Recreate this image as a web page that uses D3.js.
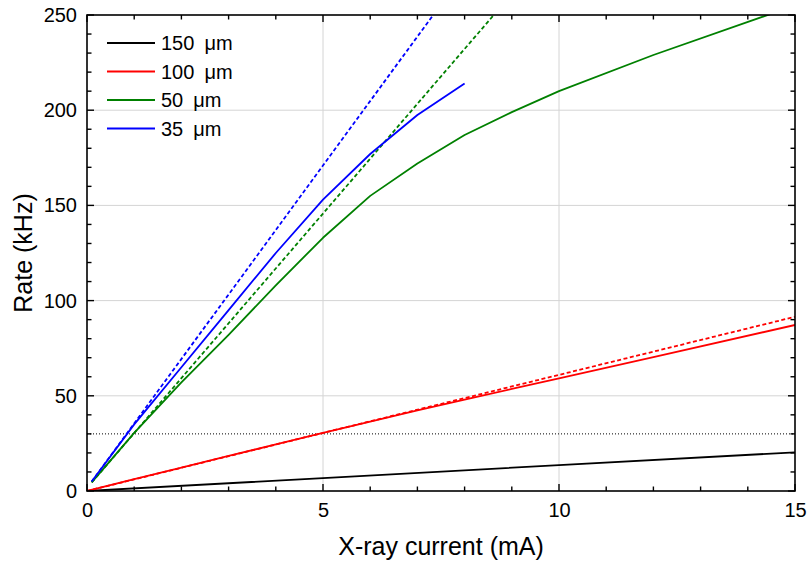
<!DOCTYPE html>
<html>
<head>
<meta charset="utf-8">
<script src="https://cdn.jsdelivr.net/npm/d3@7"></script>
<style>
  html, body { margin: 0; padding: 0; background: #fff; }
  svg { display: block; font-family: "Liberation Sans", Arial, sans-serif; }
</style>
</head>
<body>
<svg id="chart" width="808" height="565"></svg>
<script>
// Count rate vs. X-ray tube current for several pixel pitches
const xTicks = [0, 5, 10, 15];
const yTicks = [0, 50, 100, 150, 200, 250];

// measured (solid) curves
const current150 = [0, 5, 10, 15];
const rate150 = [0, 6.8, 13.6, 20.3];

const current100 = [0, 1, 2, 3, 4, 5, 6, 7, 8, 9, 10, 12, 15];
const rate100 = [0, 6.2, 12.3, 18.4, 24.5, 30.5, 36.5, 42.3, 48, 53.6, 59.2, 70.3, 87.2];

const current50 = [0.1, 1, 2, 3, 4, 5, 6, 7, 8, 9, 10, 12, 15];
const rate50 = [4.5, 30.5, 57, 82, 108, 133, 155, 172, 187, 199, 210, 229, 255];

const current35 = [0.1, 1, 2, 3, 4, 5, 6, 7, 8];
const rate35 = [5, 35, 65, 95, 125, 153, 177, 197.5, 214];

// ideal (dashed) linear responses
const idealCurrent100 = [0, 15];
const idealRate100 = [0, 91.5];
const idealCurrent50 = [0.1, 9];
const idealRate50 = [4.5, 261];
const idealCurrent35 = [0.1, 7.6];
const idealRate35 = [5, 259];

// reference level
const thresholdRate = 30;

const legendSizes = ["150", "100", "50", "35"];
const legendUnit = "μm";
const colors = ["#000000", "#ff0000", "#008000", "#0000ff"];

const svg = d3.select("#chart");
const W = 808, H = 565;
const m = { left: 87, top: 15, right: 13, bottom: 74 };
const iw = W - m.left - m.right, ih = H - m.top - m.bottom;

const x = d3.scaleLinear().domain([0, 15]).range([0, iw]);
const y = d3.scaleLinear().domain([0, 250]).range([ih, 0]);

const g = svg.append("g").attr("transform", `translate(${m.left},${m.top})`);

const defs = svg.append("defs");
defs.append("clipPath").attr("id", "plot-clip")
  .append("rect").attr("width", iw).attr("height", ih);

// grid
g.append("g").selectAll("line").data([5, 10]).join("line")
  .attr("x1", d => x(d)).attr("x2", d => x(d))
  .attr("y1", 0).attr("y2", ih)
  .attr("stroke", "#d4d4d4").attr("stroke-width", 1);
g.append("g").selectAll("line").data([50, 100, 150, 200]).join("line")
  .attr("y1", d => y(d)).attr("y2", d => y(d))
  .attr("x1", 0).attr("x2", iw)
  .attr("stroke", "#d4d4d4").attr("stroke-width", 1);

// threshold line
g.append("line")
  .attr("x1", 0).attr("x2", iw)
  .attr("y1", y(thresholdRate)).attr("y2", y(thresholdRate))
  .attr("stroke", "#000").attr("stroke-width", 1)
  .attr("stroke-dasharray", "1,2");

const plot = g.append("g").attr("clip-path", "url(#plot-clip)");
const line = d3.line().x(d => x(d[0])).y(d => y(d[1]));
const zip = (a, b) => a.map((v, i) => [v, b[i]]);

const dashed = [
  [idealCurrent100, idealRate100, colors[1]],
  [idealCurrent50, idealRate50, colors[2]],
  [idealCurrent35, idealRate35, colors[3]]
];
dashed.forEach(([cx, cy, c]) => {
  plot.append("path").attr("d", line(zip(cx, cy)))
    .attr("fill", "none").attr("stroke", c).attr("stroke-width", 1.8)
    .attr("stroke-dasharray", "4,2.5");
});

const solid = [
  [current150, rate150, colors[0]],
  [current100, rate100, colors[1]],
  [current50, rate50, colors[2]],
  [current35, rate35, colors[3]]
];
solid.forEach(([cx, cy, c]) => {
  plot.append("path").attr("d", line(zip(cx, cy)))
    .attr("fill", "none").attr("stroke", c).attr("stroke-width", 1.8)
    .attr("stroke-linejoin", "round");
});

// axes with inward ticks on all four sides
const minorX = d3.range(0, 16, 1).filter(v => !xTicks.includes(v));
const minorY = d3.range(0, 251, 10).filter(v => !yTicks.includes(v));

function tickLines(sel, vals, len, orient) {
  sel.selectAll(null).data(vals).join("line")
    .attr("stroke", "#000").attr("stroke-width", 1.4)
    .each(function (d) {
      const l = d3.select(this);
      if (orient === "bottom") l.attr("x1", x(d)).attr("x2", x(d)).attr("y1", ih).attr("y2", ih - len);
      if (orient === "top") l.attr("x1", x(d)).attr("x2", x(d)).attr("y1", 0).attr("y2", len);
      if (orient === "left") l.attr("y1", y(d)).attr("y2", y(d)).attr("x1", 0).attr("x2", len);
      if (orient === "right") l.attr("y1", y(d)).attr("y2", y(d)).attr("x1", iw).attr("x2", iw - len);
    });
}
const ticksG = g.append("g");
["bottom", "top"].forEach(o => {
  tickLines(ticksG, xTicks, 7, o);
  tickLines(ticksG, minorX, 4.5, o);
});
["left", "right"].forEach(o => {
  tickLines(ticksG, yTicks, 7, o);
  tickLines(ticksG, minorY, 4.5, o);
});

// frame
g.append("rect").attr("width", iw).attr("height", ih)
  .attr("fill", "none").attr("stroke", "#000").attr("stroke-width", 1.6);

// tick labels via axis generators
const xAxis = d3.axisBottom(x).tickValues(xTicks).tickSize(0).tickPadding(12).tickFormat(d3.format("d"));
const yAxis = d3.axisLeft(y).tickValues(yTicks).tickSize(0).tickPadding(10).tickFormat(d3.format("d"));
const xa = g.append("g").attr("transform", `translate(0,${ih})`).call(xAxis);
const ya = g.append("g").call(yAxis);
[xa, ya].forEach(a => {
  a.select(".domain").remove();
  a.selectAll("text").attr("font-size", 20).attr("fill", "#000")
    .attr("font-family", "'Liberation Sans', Arial, sans-serif");
});

// axis titles
svg.append("text")
  .attr("x", m.left + iw / 2).attr("y", 555)
  .attr("text-anchor", "middle").attr("font-size", 25)
  .text("X-ray current (mA)");
svg.append("text")
  .attr("transform", `translate(32,${m.top + ih / 2}) rotate(-90)`)
  .attr("text-anchor", "middle").attr("font-size", 25)
  .text("Rate (kHz)");

// legend
const lg = g.append("g").attr("transform", "translate(20,28)");
legendSizes.forEach((lab, i) => {
  const row = lg.append("g").attr("transform", `translate(0,${i * 28.5})`);
  row.append("line").attr("x1", 0).attr("x2", 48).attr("y1", 0).attr("y2", 0)
    .attr("stroke", colors[i]).attr("stroke-width", 1.8);
  const t = row.append("text").attr("x", 54).attr("y", 7).attr("font-size", 20);
  t.append("tspan").text(lab);
  t.append("tspan").attr("dx", 10).text(legendUnit);
});
</script>
</body>
</html>
